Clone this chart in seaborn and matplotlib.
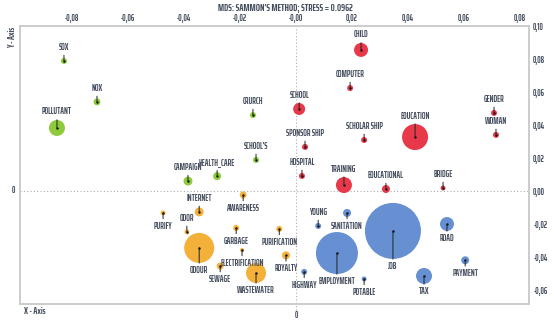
import numpy as np
import pandas as pd
import matplotlib
matplotlib.use("Agg")
import matplotlib.pyplot as plt
import matplotlib.transforms as mtransforms
import seaborn as sns

# MDS coordinates
words = ["SOX", "NOX", "POLLUTANT", "CRURCH", "SCHOOL'S", "CAMPAIGN", "HEALTH_CARE",
         "AWARENESS", "INTERNET", "PURIFY", "ODOR", "ODOUR", "GARBAGE", "ELECTRIFICATION",
         "SEWAGE", "WASTEWATER", "PURIFICATION", "ROYALTY",
         "YOUNG", "SANITATION", "HIGHWAY", "EMPLOYMENT", "POTABLE", "JOB", "TAX", "ROAD", "PAYMENT",
         "CHILD", "COMPUTER", "SCHOOL", "SPONSOR SHIP", "SCHOLAR SHIP", "EDUCATION", "GENDER",
         "WOMAN", "HOSPITAL", "TRAINING", "EDUCATIONAL", "BRIDGE"]
x_vals = [-0.0829, -0.0711, -0.0854, -0.0154, -0.0143, -0.0386, -0.0282,
          -0.0189, -0.0346, -0.0475, -0.0390, -0.0346, -0.0214, -0.0193,
          -0.0271, -0.0143, -0.0060, -0.0036,
          0.0079, 0.0182, 0.0029, 0.0146, 0.0243, 0.0346, 0.0457, 0.0539, 0.0604,
          0.0232, 0.0193, 0.0011, 0.0032, 0.0243, 0.0425, 0.0707,
          0.0714, 0.0021, 0.0171, 0.0321, 0.0525]
y_vals = [0.0788, 0.0540, 0.0382, 0.0460, 0.0188, 0.0060, 0.0090,
          -0.0024, -0.0127, -0.0133, -0.0248, -0.0345, -0.0224, -0.0358,
          -0.0455, -0.0497, -0.0230, -0.0390,
          -0.0212, -0.0133, -0.0490, -0.0376, -0.0533, -0.0242, -0.0515, -0.0200, -0.0420,
          0.0855, 0.0624, 0.0497, 0.0267, 0.0309, 0.0327, 0.0473,
          0.0340, 0.0091, 0.0036, 0.0012, 0.0018]
groups = ["g"] * 7 + ["o"] * 11 + ["b"] * 9 + ["r"] * 12
weights = [9, 12, 64, 9, 9, 20, 16,
           12, 20, 6, 6, 225, 9, 4,
           12, 100, 9, 16,
           9, 16, 9, 441, 6, 784, 64, 49, 16,
           49, 9, 36, 9, 9, 169, 9,
           9, 9, 64, 16, 6]
below = {"AWARENESS", "PURIFY", "ODOUR", "GARBAGE", "ELECTRIFICATION", "SEWAGE", "WASTEWATER",
         "PURIFICATION", "ROYALTY", "SANITATION", "HIGHWAY", "EMPLOYMENT", "POTABLE", "JOB",
         "TAX", "ROAD", "PAYMENT"}

x_ticks = [-0.08, -0.06, -0.04, -0.02, 0.0, 0.02, 0.04, 0.06, 0.08]
x_ticklabels = ["-0,08", "-0,06", "-0,04", "-0,02", "-0,00", "0,02", "0,04", "0,06", "0,08"]
y_ticks = [0.10, 0.08, 0.06, 0.04, 0.02, 0.0, -0.02, -0.04, -0.06]
y_ticklabels = ["0,10", "0,08", "0,06", "0,04", "0,02", "0,00", "-0,02", "-0,04", "-0,06"]

palette = {"g": "#8dcb3d", "o": "#f4b13a", "b": "#6790d2", "r": "#e8394b"}
txt_col = "#454e5e"

df = pd.DataFrame({"word": words, "x": x_vals, "y": y_vals, "group": groups, "w": weights})

sns.set_style("white")
plt.rcParams["font.family"] = ["Saira ExtraCondensed", "Antonio", "DejaVu Sans"]

fig = plt.figure(figsize=(5.54, 3.23), dpi=100)
ax = fig.add_axes([0.0361, 0.0588, 0.9188, 0.8607])

# radius in px ~ sqrt(w); scatter size s = (2 * 0.72 * r)^2
wmin, wmax = min(weights), max(weights)
sns.scatterplot(data=df, x="x", y="y", hue="group", palette=palette, size="w",
                sizes=(2.0736 * wmin, 2.0736 * wmax), size_norm=(wmin, wmax),
                edgecolor="none", legend=False, ax=ax, zorder=3)
ax.scatter(df["x"], df["y"], s=3, color="#111111", zorder=4, linewidths=0)

for _, row in df.iterrows():
    r = np.sqrt(row["w"]) * 0.72
    off = max(r + 2.5, 6.5)
    if row["word"] in below:
        dy, va = -off, "top"
    else:
        dy, va = off, "bottom"
    ax.annotate(row["word"], (row["x"], row["y"]), xytext=(0, dy), textcoords="offset points",
                ha="center", va=va, fontsize=6.3, fontweight=700, color=txt_col, zorder=5,
                arrowprops=dict(arrowstyle="-", color="#222222", lw=0.7, shrinkA=0, shrinkB=0))

ax.axhline(0, color="#aaaaaa", ls=(0, (1, 2)), lw=0.8, zorder=1)
ax.axvline(0, color="#aaaaaa", ls=(0, (1, 2)), lw=0.8, zorder=1, ymin=-0.02, clip_on=False)

ax.set_xlim(-0.0986, 0.0832)
ax.set_ylim(-0.0685, 0.10)
ax.set_xticks(x_ticks)
ax.set_xticklabels(x_ticklabels)
ax.set_yticks(y_ticks)
ax.set_yticklabels(y_ticklabels)
ax.xaxis.tick_top()
ax.yaxis.tick_right()
ax.tick_params(length=0, labelsize=6.2, labelcolor=txt_col, pad=3)
for lab in ax.get_xticklabels() + ax.get_yticklabels():
    lab.set_fontweight(700)
ax.set_xlabel("")
ax.set_ylabel("")
for sp in ax.spines.values():
    sp.set_color("#cccccc")
    sp.set_linewidth(1.4)

# zero markers outside the frame
bx = mtransforms.blended_transform_factory(ax.transData, ax.transAxes)
ax.text(0, -0.025, "0", transform=bx, ha="center", va="top", fontsize=6.2,
        fontweight=700, color=txt_col)
by = mtransforms.blended_transform_factory(ax.transAxes, ax.transData)
ax.text(-0.01, 0, "0", transform=by, ha="right", va="center", fontsize=6.2,
        fontweight=700, color=txt_col)

fig.text(0.515, 0.978, "MDS: SAMMON'S METHOD; STRESS = 0.0962", ha="center", va="center",
         fontsize=7.2, fontweight=700, color=txt_col)
fig.text(0.022, 0.885, "Y - Axis", rotation=90, ha="center", va="center",
         fontsize=6.8, fontweight=700, color=txt_col)
fig.text(0.062, 0.035, "X - Axis", ha="center", va="center",
         fontsize=6.8, fontweight=700, color=txt_col)

fig.savefig("out.png", dpi=100)
